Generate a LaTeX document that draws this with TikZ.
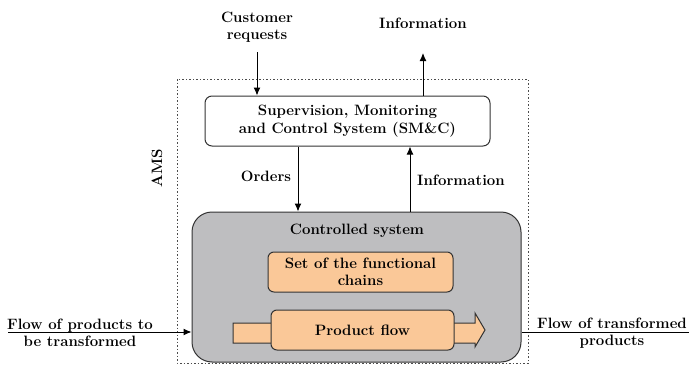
\documentclass[tikz,border=0pt]{standalone}
\usepackage{tikz}
\usetikzlibrary{arrows.meta}
\definecolor{ctrlgray}{RGB}{190,190,192}
\definecolor{chainorange}{RGB}{250,200,152}

\begin{document}
\begin{tikzpicture}
      [x=1pt, y=-1pt,
      every node/.style={font=\fontsize{15}{17.5}\selectfont\bfseries, align=center, inner sep=0pt},
      smbox/.style={draw=black!80, line width=1pt, rounded corners=7pt, fill=white},
      ctrlbox/.style={draw=black!80, line width=1pt, rounded corners=20pt, fill=ctrlgray},
      chainbox/.style={draw=black!80, line width=1pt, rounded corners=6pt, fill=chainorange},
      flowarrow/.style={-{Latex[length=8pt,width=7pt]}, line width=1pt},
      ]
      \useasboundingbox (0,0) rectangle (689,372);
      % AMS frame
      \draw[black!70, dash pattern=on 1.5pt off 2pt] (177,79) rectangle (528,363);
      \node[rotate=90] (ams) at (157,168) {AMS};
      % boxes
      \node[smbox, minimum width=285pt, minimum height=50pt] (smc) at (347.5,121)
        {Supervision, Monitoring\\and Control System (SM\&C)};
      \node[ctrlbox, minimum width=329pt, minimum height=150pt] (ctrl) at (356.5,287) {};
      \node (ctrltxt) at (357,231) {Controlled system};
      \node[chainbox, minimum width=185pt, minimum height=40pt] (chains) at (360.5,272)
        {Set of the functional\\chains};
      \filldraw[draw=black!80, line width=1pt, fill=chainorange] (233,323) -- (475,323) -- (475,313)
        -- (485,330) -- (475,347) -- (475,343) -- (233,343) -- cycle;
      \node[chainbox, minimum width=183pt, minimum height=40pt] (flow) at (362.5,330) {Product flow};
      % labels
      \node (cust) at (257,27) {Customer\\requests};
      \node (infotop) at (423,23) {Information};
      \node (orders) at (266,176) {Orders};
      \node (infomid) at (461,180) {Information};
      \node (inflow) at (80,333) {Flow of products to\\be transformed};
      \node (outflow) at (612,333) {Flow of transformed\\products};
      \coordinate (custstart) at (257,52);
      \coordinate (infoend) at (423,53);
      \coordinate (ordx) at (298,0);
      \coordinate (infox) at (410,0);
      \coordinate (instart) at (8,332);
      \coordinate (outend) at (689,332);
      % connectors
      \draw[flowarrow] (custstart) -- (custstart |- smc.north);
      \draw[flowarrow] (infoend |- smc.north) -- (infoend);
      \draw[flowarrow] (ordx |- smc.south) -- (ordx |- ctrl.north);
      \draw[flowarrow] (infox |- ctrl.north) -- (infox |- smc.south);
      \draw[flowarrow] (instart) -- (instart -| ctrl.west);
      \draw[line width=1pt] (outend -| ctrl.east) -- (outend);
\end{tikzpicture}
\end{document}
